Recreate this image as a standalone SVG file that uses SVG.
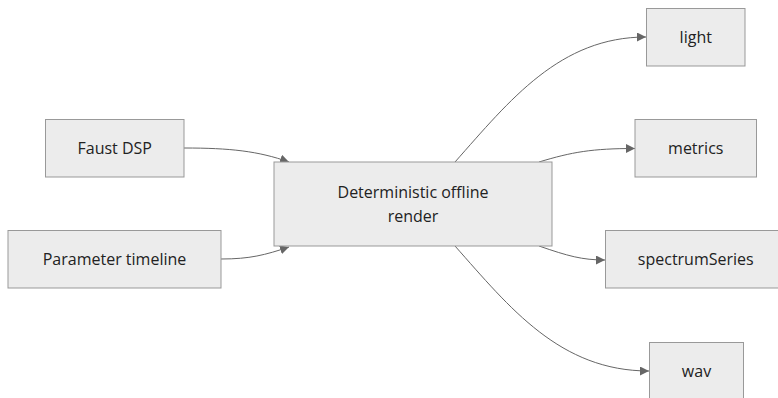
<svg xmlns="http://www.w3.org/2000/svg" width="778" height="398" viewBox="0 0 778 398">
<style>
.node rect{fill:#ececec;stroke:#999;stroke-width:1}
.node text{font-family:"Open Sans","DejaVu Sans",sans-serif;font-size:16px;fill:#222;text-anchor:middle;dominant-baseline:central}
.edge{fill:none;stroke:#666;stroke-width:1;marker-end:url(#arrow)}
</style>
<defs>
<marker id="arrow" viewBox="0 0 10 10" refX="10" refY="5" markerWidth="9" markerHeight="9" markerUnits="userSpaceOnUse" orient="auto">
<path d="M0,0 L10,5 L0,10 z" fill="#666"/>
</marker>
</defs>
<rect width="778" height="398" fill="#fff"/>
<g id="edges">
<path class="edge" d="M184,148 C230,148 258,151 289,162"/>
<path class="edge" d="M221,259 C250,259 265,255 289,247"/>
<path class="edge" d="M455,162 C510,100 560,37 646,37"/>
<path class="edge" d="M539,162 C572,152 592,148.5 635,148.5"/>
<path class="edge" d="M539,246 C568,256 582,260 605,260"/>
<path class="edge" d="M455,246 C510,308 560,371 649,371"/>
</g>
<g id="faust" class="node"><rect x="45.5" y="119.5" width="138.5" height="57.5"/><text x="114.75" y="148.25">Faust DSP</text></g>
<g id="params" class="node"><rect x="8" y="230.5" width="213" height="57.5"/><text x="114.5" y="259.25">Parameter timeline</text></g>
<g id="render" class="node"><rect x="274" y="162" width="278" height="84"/><text x="413" y="191.5">Deterministic offline</text><text x="413" y="216">render</text></g>
<g id="light" class="node"><rect x="646.5" y="8.5" width="98.5" height="57.5"/><text x="695.75" y="37.25">light</text></g>
<g id="metrics" class="node"><rect x="635" y="119.5" width="121.5" height="57.5"/><text x="695.75" y="148.25">metrics</text></g>
<g id="spectrum" class="node"><rect x="605.5" y="230.5" width="180.5" height="57.5"/><text x="695.75" y="259.25">spectrumSeries</text></g>
<g id="wav" class="node"><rect x="649.5" y="342.5" width="94" height="57.5"/><text x="696.5" y="371.25">wav</text></g>
</svg>
